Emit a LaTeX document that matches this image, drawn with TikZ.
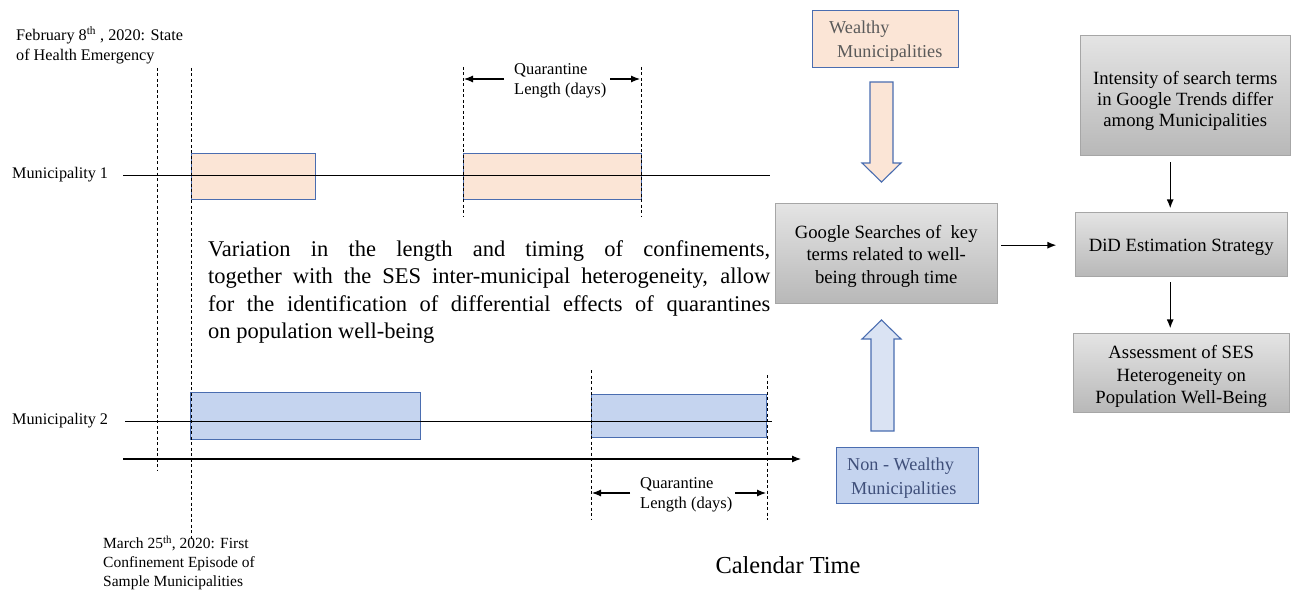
\documentclass[tikz,border=0pt]{standalone}
\usepackage{fontspec}
\setmainfont{Liberation Serif}
\usetikzlibrary{arrows.meta}
\definecolor{peach}{HTML}{FBE5D6}
\definecolor{bluefill}{HTML}{C5D4EF}
\definecolor{blueedge}{HTML}{4A6DB0}
\definecolor{lightblue}{HTML}{DAE3F3}
\definecolor{graytop}{HTML}{E4E4E4}
\definecolor{graybot}{HTML}{B8B8B8}
\definecolor{grayedge}{HTML}{A6A6A6}
\definecolor{wtext}{HTML}{5A5A5A}
\definecolor{ntext}{HTML}{3F4F7A}
\newcommand{\jline}[1]{\hbox to 562pt{#1}}
\begin{document}
\begin{tikzpicture}[x=1pt,y=-1pt,
 lbl/.style={font=\fontsize{16.2}{20}\selectfont, inner sep=0, align=left},
 qlbl/.style={font=\fontsize{16.5}{20.5}\selectfont, inner sep=0, align=left, anchor=north west},
 qbox/.style={draw=blueedge, line width=1.1pt, inner sep=0, anchor=north west},
 gbox/.style={draw=grayedge, top color=graytop, bottom color=graybot, inner sep=0, anchor=north west},
 gtxt/.style={inner sep=0, align=center, font=\fontsize{18.7}{22.5}\selectfont},
 vdash/.style={dashed, dash pattern=on 3pt off 2.5pt, line width=0.8pt},
 arr/.style={-{Latex[length=9pt,width=7pt]}, line width=1.3pt},
 darr/.style={-{Latex[length=9pt,width=7pt]}, line width=1.1pt},
 blk/.style={draw=blueedge, line width=1.1pt}
]
\useasboundingbox (0,0) rectangle (1293,591);

% timeline boxes
\node[qbox, fill=peach, minimum width=124, minimum height=46] (p1) at (191,153) {};
\node[qbox, fill=peach, minimum width=178, minimum height=46] (p2) at (463,153) {};
\node[qbox, fill=bluefill, minimum width=230, minimum height=47] (b1) at (190,392) {};
\node[qbox, fill=bluefill, minimum width=175, minimum height=43] (b2) at (591,394) {};

% labels
\node[lbl, anchor=west] (m1) at (12,175) {Municipality 1};
\node[lbl, anchor=west] (m2) at (12,421) {Municipality 2};
\coordinate (m1e) at (770,175);
\coordinate (m2e) at (772,421);
\draw[line width=0.9pt] (123,175) -- (m1e);
\draw[line width=0.9pt] (125,421) -- (m2e);

% time axis
\coordinate (ts) at (123,459);
\coordinate (te) at (801,459);
\draw[darr] (ts) -- (te);

% dashed verticals
\draw[vdash] (157,68) -- (157,470);
\draw[vdash] (191,68) -- (191,540);
\draw[vdash] (463,67) -- (463,217);
\draw[vdash] (641,67) -- (641,217);
\draw[vdash] (591,370) -- (591,520);
\draw[vdash] (767,375) -- (767,520);

% quarantine labels
\node[qlbl] (q1) at (514,63) {Quarantine\\Length (days)};
\coordinate (q1l) at (504,79);
\coordinate (q1r) at (610,79);
\draw[darr] (q1l) -- (464,79);
\draw[darr] (q1r) -- (640,79);
\node[qlbl] (q2) at (640,477) {Quarantine\\Length (days)};
\coordinate (q2l) at (630,493);
\coordinate (q2r) at (735,493);
\draw[darr] (q2l) -- (592,493);
\draw[darr] (q2r) -- (766,493);

% dates
\node[lbl, anchor=north west] (feb) at (16,26) {February 8\textsuperscript{th} , 2020: State\\of Health Emergency};
\node[lbl, anchor=north west, font=\fontsize{15.5}{19}\selectfont] (mar) at (103,536) {March 25\textsuperscript{th}, 2020: First\\Confinement Episode of\\Sample Municipalities};

% main text
\node[anchor=north west, inner sep=0, align=left, font=\fontsize{22.5}{27.5}\selectfont] (txt) at (208,240) {\jline{Variation in the length and timing of confinements,}\\\jline{together with the SES inter-municipal heterogeneity, allow}\\\jline{for the identification of differential effects of quarantines}\\on population well-being};

% calendar time
\node[font=\fontsize{24.4}{28}\selectfont, inner sep=0] (cal) at (788,565) {Calendar Time};

% wealthy / non-wealthy
\node[qbox, fill=peach, minimum width=146, minimum height=57] (w) at (812,10) {};
\node[anchor=north west, inner sep=0, text=wtext, font=\fontsize{18.2}{24}\selectfont, align=left] (wt) at (829,21) {Wealthy\\\hspace{8pt}Municipalities};
\node[qbox, fill=bluefill, minimum width=142, minimum height=56] (nw) at (836,447) {};
\node[anchor=north west, inner sep=0, text=ntext, font=\fontsize{18.2}{24}\selectfont, align=left] (nwt) at (847,458) {Non - Wealthy\\\hspace{4pt}Municipalities};

% block arrows
\filldraw[blk, fill=peach] (870,82) -- (893,82) -- (893,163) -- (901,163) -- (881.5,182) -- (862,163) -- (870,163) -- cycle;
\filldraw[blk, fill=lightblue] (881.5,320) -- (901,339) -- (894,339) -- (894,431) -- (871,431) -- (871,339) -- (862,339) -- cycle;

% gray boxes
\node[gbox, minimum width=222, minimum height=100] (g) at (775,203) {};
\node[gtxt] (gt) at ([yshift=-3pt]g.center) {Google Searches of \ key\\terms related to well-\\being through time};
\node[gbox, minimum width=210, minimum height=120] (int) at (1080,35) {};
\node[gtxt, font=\fontsize{18.7}{21}\selectfont] (intt) at ([yshift=-6pt]int.center) {Intensity of search terms\\in Google Trends differ\\among Municipalities};
\node[gbox, minimum width=212, minimum height=64] (did) at (1075,212) {};
\node[gtxt] (didt) at ([yshift=-3pt]did.center) {DiD Estimation Strategy};
\node[gbox, minimum width=216, minimum height=79] (ass) at (1073,333) {};
\node[gtxt] (asst) at ([yshift=-4pt]ass.center) {Assessment of SES\\Heterogeneity on\\Population Well-Being};

% connectors
\draw[arr] (g.east) ++(4,-8) -- ++(55,0);
\draw[arr] (int.south) ++(-15,7) -- ++(0,46);
\draw[arr] (did.south) ++(-11,6) -- ++(0,46);
\end{tikzpicture}
\end{document}
